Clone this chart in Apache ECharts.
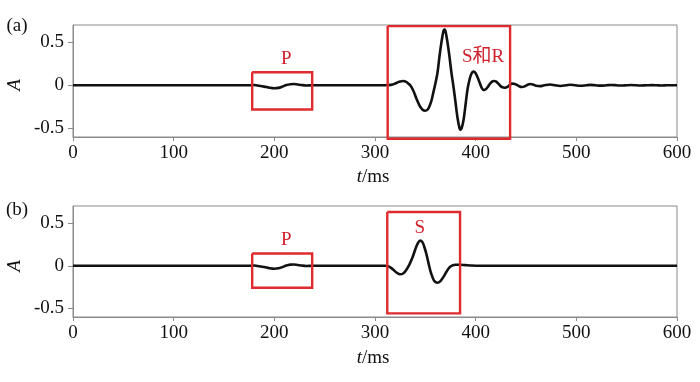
<!DOCTYPE html>
<html><head><meta charset="utf-8">
<script src="https://cdn.jsdelivr.net/npm/echarts@6/dist/echarts.min.js"></script>
<style>html,body{margin:0;padding:0;background:#fff}#c{width:700px;height:382px}</style>
</head><body><div id="c"></div>
<script>
// ---- data ----
const xTicks = [0, 100, 200, 300, 400, 500, 600];
const yTicks = [-0.5, 0, 0.5];

// panel (a): P wave + S and Rayleigh wave
const timeA = [0, 176, 180, 185, 190, 195, 200, 204, 208, 212, 216, 219, 223, 227, 232, 238, 250, 300, 310, 316, 320, 324, 328, 331, 333, 335, 338, 341, 344, 347, 350, 353, 356, 358, 359.6, 362, 364, 366, 368, 369, 370, 372, 374, 376, 378, 380, 382, 384, 385, 386, 388, 390, 392, 394, 396, 398, 400, 402, 404, 406, 408, 410, 412, 414, 416, 418, 420, 422, 424, 426, 429, 432, 434, 436, 438, 441, 443, 446, 449, 452, 454, 457, 460, 464, 468, 474, 479, 484, 490, 494, 499, 504, 510, 514, 519, 524, 530, 534, 540, 544, 550, 554, 560, 564, 570, 575, 580, 585, 590, 600];
const ampA = [0, 0, 0.003, -0.005, -0.015, -0.028, -0.035, -0.03, -0.015, 0.003, 0.013, 0.015, 0.01, 0.003, -0.002, 0, 0, 0, 0, 0.005, 0.02, 0.04, 0.05, 0.04, 0.02, 0, -0.06, -0.15, -0.23, -0.28, -0.296, -0.27, -0.18, -0.08, 0, 0.14, 0.33, 0.5, 0.63, 0.646, 0.63, 0.5, 0.33, 0.14, -0.02, -0.2, -0.38, -0.5, -0.514, -0.5, -0.4, -0.22, -0.04, 0.07, 0.14, 0.159, 0.14, 0.09, 0.03, -0.03, -0.055, -0.045, -0.02, 0.015, 0.04, 0.05, 0.045, 0.025, 0, -0.02, -0.028, -0.015, 0.005, 0.02, 0.018, 0.005, -0.01, -0.02, -0.01, 0.008, 0.015, 0.008, -0.005, -0.01, 0, 0.01, 0, -0.008, 0, 0.007, 0, -0.006, 0, 0.005, 0, -0.004, 0, 0.004, 0, -0.003, 0, 0.003, 0, -0.003, 0, 0.002, 0, -0.002, 0, 0];

// panel (b): P wave + S wave
const timeB = [0, 176, 180, 185, 190, 195, 200, 204, 208, 212, 216, 219, 223, 227, 232, 238, 250, 300, 310, 313, 316, 319, 322, 325, 328, 331, 334, 337, 340, 342, 344.7, 347, 349, 351, 353, 355, 357, 359, 362, 365, 368, 371, 374, 377, 380, 384, 390, 396, 405, 415, 600];
const ampB = [0, 0, 0.003, -0.005, -0.015, -0.028, -0.035, -0.03, -0.015, 0.003, 0.013, 0.015, 0.01, 0.003, -0.002, 0, 0, 0, 0, -0.005, -0.025, -0.055, -0.085, -0.1, -0.09, -0.05, 0.01, 0.09, 0.19, 0.25, 0.295, 0.28, 0.22, 0.14, 0.04, -0.06, -0.13, -0.18, -0.199, -0.18, -0.13, -0.07, -0.02, 0.005, 0.012, 0.012, 0.008, 0.004, 0.001, 0, 0];

// annotation boxes: [tStart, tEnd, ampTop, ampBottom]
const boxesA = [[178, 237.6, 0.152, -0.28], [312.6, 434.2, 0.687, -0.62]];
const boxesB = [[178, 237.6, 0.143, -0.257], [312.2, 384.5, 0.63, -0.557]];
const boxLabelsA = ['P', 'S和R'];
const boxLabelsB = ['P', 'S'];

// ---- chart ----
const serif = '"Liberation Serif", "Times New Roman", serif';
const axisGray = '#8a8a8a';
const red = '#e02a2e';
const labelRed = '#d0202c';

function pairs(t, v) { return t.map((x, i) => [x, v[i]]); }
function rect(b) { return [[b[0], b[2]], [b[1], b[2]], [b[1], b[3]], [b[0], b[3]], [b[0], b[2]]]; }

function xAxis(gi) {
  return {
    gridIndex: gi, type: 'value', min: 0, max: 600, interval: 100,
    axisLine: { show: true, onZero: false, lineStyle: { color: axisGray, width: 1 } },
    axisTick: { show: true, length: 4, lineStyle: { color: axisGray } },
    splitLine: { show: false },
    axisLabel: { color: '#111', fontFamily: serif, fontSize: 19, margin: 7,
      customValues: xTicks }
  };
}
function yAxis(gi) {
  return {
    gridIndex: gi, type: 'value', min: -0.6, max: 0.7,
    axisLine: { show: true, onZero: false, lineStyle: { color: axisGray, width: 1 } },
    axisTick: { show: true, length: 5, lineStyle: { color: axisGray }, customValues: yTicks },
    splitLine: { show: false },
    axisLabel: { color: '#111', fontFamily: serif, fontSize: 19, margin: 9,
      customValues: yTicks, formatter: v => (v === 0 ? '0' : String(v)) }
  };
}
function waveSeries(t, v, gi) {
  return { type: 'line', xAxisIndex: gi, yAxisIndex: gi, data: pairs(t, v),
    smooth: 0.35, showSymbol: false, symbol: 'none', silent: true, animation: false,
    lineStyle: { color: '#111', width: 2.6 }, z: 3 };
}
function boxSeries(b, gi) {
  return { type: 'line', xAxisIndex: gi, yAxisIndex: gi, data: rect(b), clip: false,
    showSymbol: false, symbol: 'none', silent: true, animation: false,
    lineStyle: { color: red, width: 2.4, join: 'miter' }, z: 4 };
}

const series = [waveSeries(timeA, ampA, 0), waveSeries(timeB, ampB, 1)];
boxesA.forEach(b => series.push(boxSeries(b, 0)));
boxesB.forEach(b => series.push(boxSeries(b, 1)));

const chart = echarts.init(document.getElementById('c'), null, { renderer: 'canvas' });

function txt(x, y, text, extra) {
  return { type: 'text', x: x, y: y, silent: true,
    style: Object.assign({ text: text, fill: '#111', font: '19px ' + serif, align: 'center', verticalAlign: 'middle' }, extra || {}) };
}

chart.setOption({
  animation: false,
  backgroundColor: '#fff',
  grid: [
    { left: 73, top: 25, width: 604, height: 112, show: true, borderColor: axisGray, borderWidth: 1, containLabel: false },
    { left: 73, top: 206, width: 604, height: 111, show: true, borderColor: axisGray, borderWidth: 1, containLabel: false }
  ],
  xAxis: [xAxis(0), xAxis(1)],
  yAxis: [yAxis(0), yAxis(1)],
  series: series
});

// text annotations positioned from the data coordinates of the boxes
const g = [];
const pa0 = chart.convertToPixel({ gridIndex: 0 }, [(boxesA[0][0] + boxesA[0][1]) / 2, boxesA[0][2]]);
const pa1 = chart.convertToPixel({ gridIndex: 0 }, [boxesA[1][1], boxesA[1][2]]);
const pb0 = chart.convertToPixel({ gridIndex: 1 }, [(boxesB[0][0] + boxesB[0][1]) / 2, boxesB[0][2]]);
const pb1 = chart.convertToPixel({ gridIndex: 1 }, [(boxesB[1][0] + boxesB[1][1]) / 2, boxesB[1][2]]);
const redFont = { fill: labelRed, font: '19px ' + serif };
g.push(txt(pa0[0] + 4, pa0[1] - 13, boxLabelsA[0], redFont));
g.push(txt(pa1[0] - 27, pa1[1] + 31, boxLabelsA[1], { fill: labelRed, font: '19px "Liberation Serif", "Noto Sans CJK SC", serif' }));
g.push(txt(pb0[0] + 4, pb0[1] - 14, boxLabelsB[0], redFont));
g.push(txt(pb1[0] - 4, pb1[1] + 16, boxLabelsB[1], redFont));
// panel tags and axis names
g.push(txt(17, 26, '(a)'));
g.push(txt(17, 210, '(b)'));
g.push({ type: 'text', x: 15, y: 85, rotation: Math.PI / 2, silent: true,
  style: { text: 'A', fill: '#111', font: 'italic 19px ' + serif, align: 'center', verticalAlign: 'middle' } });
g.push({ type: 'text', x: 15, y: 266, rotation: Math.PI / 2, silent: true,
  style: { text: 'A', fill: '#111', font: 'italic 19px ' + serif, align: 'center', verticalAlign: 'middle' } });
const tms = { fill: '#111', font: '19px ' + serif, align: 'center', verticalAlign: 'middle',
  rich: { i: { fontStyle: 'italic', fontFamily: serif, fontSize: 19, fill: '#111' }, n: { fontFamily: serif, fontSize: 19, fill: '#111' } } };
g.push({ type: 'text', x: 373, y: 177, silent: true, style: Object.assign({ text: '{i|t}{n|/ms}' }, tms) });
g.push({ type: 'text', x: 373, y: 358, silent: true, style: Object.assign({ text: '{i|t}{n|/ms}' }, tms) });
chart.setOption({ graphic: g });
</script></body></html>
